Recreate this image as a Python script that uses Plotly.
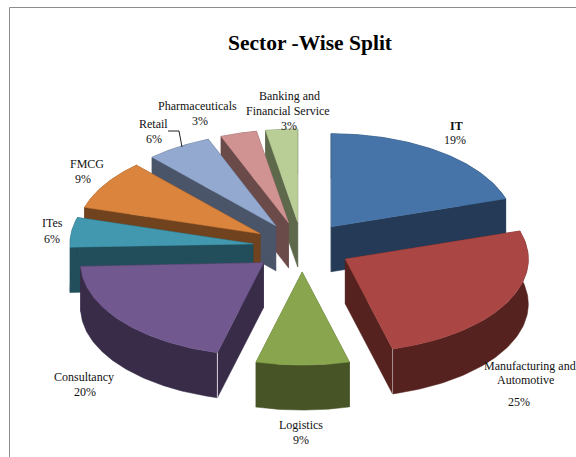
import numpy as np
import plotly.graph_objects as go

# Data (drawing order of slices starts at 12 o'clock, clockwise)
sectors = ["IT", "Manufacturing and Automotive", "Logistics", "Consultancy", "ITes",
           "FMCG", "Retail", "Pharmaceuticals", "Banking and Financial Service"]
shares = [20.1, 25.7, 8.2, 20.3, 5.2, 8.6, 5.8, 3.2, 2.8]   # apparent shares
percent_labels = ["19%", "25%", "9%", "20%", "6%", "9%", "6%", "3%", "3%"]
top_colors = ["#4674A8", "#AA4744", "#89A64F", "#71588F", "#4198AF",
              "#DB843D", "#93A9CF", "#D19392", "#B9CD96"]
wall_colors = ["#243A56", "#55221F", "#465426", "#392C49", "#214E5A",
               "#70431E", "#4A5569", "#6B4A4A", "#5E684B"]
paint_order = [8, 7, 6, 5, 4, 0, 2, 1, 3]

# Projection of the 3-D pie
CX, CY, RX, RY, DEPTH, EXPLODE = 302.0, 247.0, 183.0, 93.0, 45.0, 0.27

fracs = np.array(shares) / sum(shares)
edges = np.concatenate([[0.0], np.cumsum(fracs)]) * 2 * np.pi


def project(theta, radius=1.0):
    return CX + RX * radius * np.sin(theta), CY - RY * radius * np.cos(theta)


fig = go.Figure()


def poly(xs, ys, color):
    fig.add_trace(go.Scatter(x=xs, y=ys, mode="lines", fill="toself", fillcolor=color,
                             line=dict(color=color, width=0.5), hoverinfo="skip",
                             showlegend=False))


for i in paint_order:
    a0, a1 = edges[i], edges[i + 1]
    mid = (a0 + a1) / 2
    ax, ay = project(mid, EXPLODE)
    t = np.linspace(a0, a1, 80)
    ox = ax + RX * np.sin(t)
    oy = ay - RY * np.cos(t)
    # cut faces
    for ex, ey in ((ox[0], oy[0]), (ox[-1], oy[-1])):
        poly([ax, ex, ex, ax, ax], [ay, ey, ey + DEPTH, ay + DEPTH, ay], wall_colors[i])
    # outer wall
    poly(np.concatenate([ox, ox[::-1], ox[:1]]),
         np.concatenate([oy, oy[::-1] + DEPTH, oy[:1]]), wall_colors[i])
    # top
    poly(np.concatenate([[ax], ox, [ax]]), np.concatenate([[ay], oy, [ay]]), top_colors[i])
    # light seam at the front corner of the two large front slices
    if sectors[i] == "Consultancy":
        fig.add_trace(go.Scatter(x=[ox[0], ox[0]], y=[oy[0], oy[0] + DEPTH], mode="lines",
                                 line=dict(color="#d8d4dc", width=1), hoverinfo="skip",
                                 showlegend=False))
    if sectors[i].startswith("Manufacturing"):
        fig.add_trace(go.Scatter(x=[ox[-1], ox[-1]], y=[oy[-1], oy[-1] + DEPTH], mode="lines",
                                 line=dict(color="#a89090", width=1), hoverinfo="skip",
                                 showlegend=False))

# Text lines: (text, x, y)
p = percent_labels
text_lines = [
    ("<b>IT</b>", 456, 126), (p[0], 455, 140),
    ("Manufacturing and", 530, 366), ("Automotive", 525, 380), (p[1], 519, 402),
    ("Logistics", 301, 425), (p[2], 301, 440),
    ("Consultancy", 84, 377), (p[3], 85, 392),
    ("ITes", 52, 223), (p[4], 52, 239),
    ("FMCG", 87, 164), (p[5], 83, 179),
    ("Retail", 153, 124), (p[6], 154, 139),
    ("Pharmaceuticals", 197, 106), (p[7], 200, 121),
    ("Banking and", 289, 96), ("Financial Service", 288, 111), (p[8], 289, 126),
]
annotations = [dict(x=x, y=y, text=s, showarrow=False, xanchor="center", yanchor="middle",
                    font=dict(family="Liberation Serif", size=12, color="#111111"))
               for s, x, y in text_lines]
annotations.append(dict(x=310, y=43, text="<b>Sector -Wise Split</b>", showarrow=False,
                        xanchor="center", yanchor="middle",
                        font=dict(family="Liberation Serif", size=21.5, color="#000000")))

shapes = [
    dict(type="line", x0=9.5, x1=9.5, y0=7.5, y1=457, line=dict(color="#8c8c8c", width=1)),
    dict(type="line", x0=9.5, x1=576, y0=7.5, y1=7.5, line=dict(color="#8c8c8c", width=1)),
    dict(type="path", path="M168,131 L179,131 L182,147", line=dict(color="#222222", width=1)),
]

fig.update_layout(
    width=576, height=457, margin=dict(l=0, r=0, t=0, b=0),
    paper_bgcolor="white", plot_bgcolor="white",
    xaxis=dict(range=[0, 576], visible=False, fixedrange=True),
    yaxis=dict(range=[457, 0], visible=False, fixedrange=True),
    annotations=annotations, shapes=shapes,
)
fig.write_html("out.html", config=dict(displayModeBar=False),
               post_script="document.body.style.margin='0';document.body.style.overflow='hidden';")
